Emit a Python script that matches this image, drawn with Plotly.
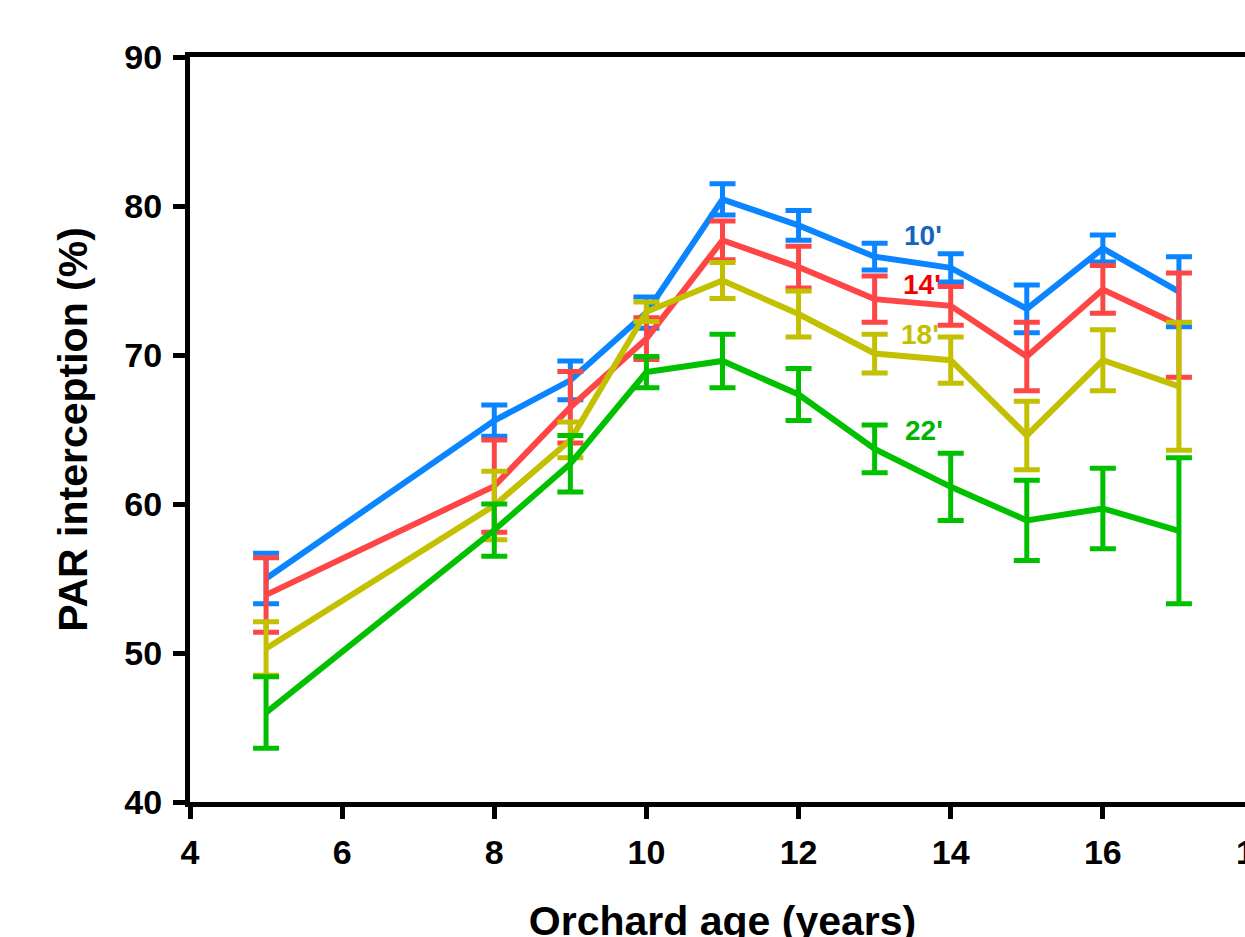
import plotly.graph_objects as go

ages = [5, 8, 9, 10, 11, 12, 13, 14, 15, 16, 17]

spacing_labels = ["10'", "14'", "18'", "22'"]

par_10 = [55.0, 65.6, 68.3, 72.85, 80.45, 78.7, 76.6, 75.85, 73.1, 77.15, 74.25]
err_10 = [1.7, 1.05, 1.3, 1.05, 1.05, 1.0, 0.9, 0.95, 1.6, 0.9, 2.35]

par_14 = [53.9, 61.2, 66.5, 71.1, 77.7, 75.9, 73.75, 73.3, 69.9, 74.4, 72.0]
err_14 = [2.5, 3.1, 2.4, 1.4, 1.3, 1.4, 1.55, 1.3, 2.3, 1.6, 3.5]

par_18 = [50.3, 59.9, 64.3, 72.9, 75.0, 72.75, 70.1, 69.65, 64.6, 69.65, 67.9]
err_18 = [1.8, 2.3, 1.2, 0.65, 1.2, 1.55, 1.3, 1.55, 2.3, 2.05, 4.3]

par_22 = [46.0, 58.25, 62.7, 68.85, 69.6, 67.35, 63.7, 61.15, 58.9, 59.7, 58.2]
err_22 = [2.4, 1.75, 1.9, 1.05, 1.8, 1.75, 1.6, 2.25, 2.7, 2.7, 4.9]

line_colors = ["#0A84FF", "#FF4646", "#C2C000", "#00C000"]
label_colors = ["#1464C0", "#F00000", "#C2C000", "#00B400"]
label_x = [13.36, 13.35, 13.32, 13.37]
label_y = [78.05, 74.7, 71.35, 64.9]

series = [par_10, par_14, par_18, par_22]
errors = [err_10, err_14, err_18, err_22]

FONT = "Liberation Sans, Arial, Helvetica, sans-serif"

fig = go.Figure()
for name, vals, errs, col in zip(spacing_labels, series, errors, line_colors):
    fig.add_trace(go.Scatter(
        x=ages, y=vals, mode="lines", name=name,
        line=dict(color=col, width=6),
        error_y=dict(type="data", array=errs, visible=True,
                     color=col, thickness=5, width=13),
        showlegend=False,
    ))

for txt, lx, ly, col in zip(spacing_labels, label_x, label_y, label_colors):
    fig.add_annotation(x=lx, y=ly, xref="x", yref="y", text=txt,
                       showarrow=False, xanchor="left", yanchor="middle",
                       font=dict(family=FONT, size=28, color=col, weight="bold"))

fig.update_layout(
    width=1265, height=985,
    margin=dict(l=190, r=10, t=57, b=183, autoexpand=False),
    paper_bgcolor="white", plot_bgcolor="white",
    font=dict(family=FONT, color="black"),
)

fig.update_xaxes(
    range=[4, 18], dtick=2, tick0=4, automargin=False,
    showgrid=False, zeroline=False,
    showline=True, linecolor="black", linewidth=5, mirror=True,
    ticks="outside", ticklen=12, tickwidth=5, tickcolor="black",
    ticklabelstandoff=4, ticklabeloverflow="allow",
    tickfont=dict(family=FONT, size=34, color="black", weight="bold"),
    title=dict(text="Orchard age (years)", standoff=38,
               font=dict(family=FONT, size=41, color="black", weight="bold")),
)
fig.update_yaxes(
    range=[40, 90], dtick=10, automargin=False,
    showgrid=False, zeroline=False,
    showline=True, linecolor="black", linewidth=5, mirror=False,
    ticks="outside", ticklen=12, tickwidth=5, tickcolor="black",
    ticklabelstandoff=4,
    tickfont=dict(family=FONT, size=34, color="black", weight="bold"),
    title=dict(text="PAR interception (%)", standoff=26,
               font=dict(family=FONT, size=41, color="black", weight="bold")),
)

fig.write_html("out.html")
